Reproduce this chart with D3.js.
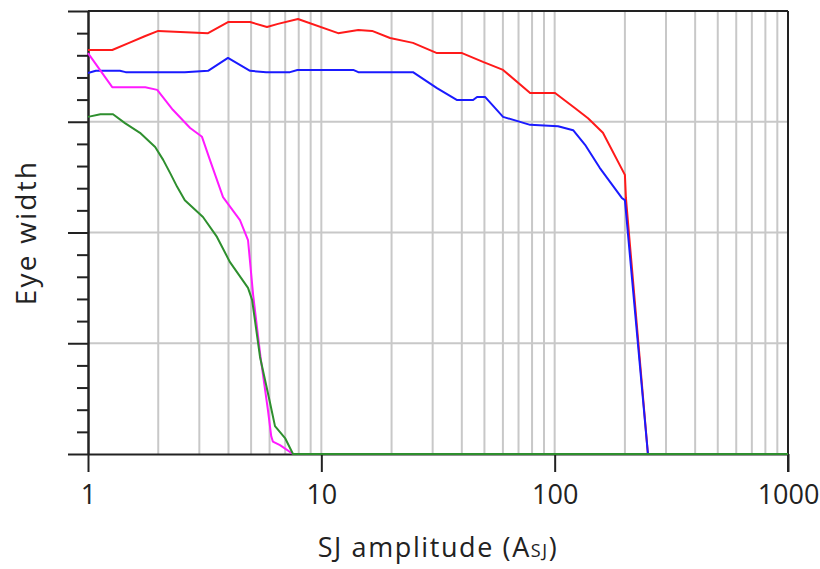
<!DOCTYPE html>
<html>
<head>
<meta charset="utf-8">
<script src="https://cdn.jsdelivr.net/npm/d3@7"></script>
<style>
  html, body { margin: 0; padding: 0; background: #fff; }
  svg { display: block; }
  text { font-family: "Open Sans", "Liberation Sans", sans-serif; fill: #222; }
</style>
</head>
<body>
<svg id="chart" width="820" height="569"></svg>
<script>
// ---- data (x = SJ amplitude, y = relative eye width) ----
const xTickValues = [1, 10, 100, 1000];
const xTickLabels = ["1", "10", "100", "1000"];
const yMajorTicks = [0, 0.25, 0.5, 0.75, 1];
const yMinorTicks = [0.05,0.1,0.15,0.2,0.3,0.35,0.4,0.45,0.55,0.6,0.65,0.7,0.8,0.85,0.9,0.95];

const redX = [1, 1.27, 1.5, 1.75, 2.0, 3.27, 3.98, 4.95, 5.85, 6.52, 7.94, 11.8, 14.4, 16.5, 19.7, 24.7, 31.3, 40.1, 49.3, 60.1, 78.5, 100.4, 122, 139, 161, 200, 202, 251];
const redY = [0.912, 0.912, 0.928, 0.943, 0.955, 0.950, 0.975, 0.975, 0.964, 0.971, 0.982, 0.950, 0.957, 0.955, 0.939, 0.928, 0.905, 0.905, 0.885, 0.867, 0.815, 0.815, 0.781, 0.758, 0.725, 0.630, 0.578, 0];

const blueX = [1, 1.08, 1.37, 1.45, 2.6, 3.27, 3.98, 4.95, 5.8, 7.34, 7.9, 13.7, 14.4, 24.7, 31.3, 38.2, 44.7, 46.5, 50.3, 60.1, 78.5, 103.4, 120, 135, 156, 194, 200, 251];
const blueY = [0.860, 0.865, 0.865, 0.862, 0.862, 0.865, 0.894, 0.865, 0.862, 0.862, 0.867, 0.867, 0.862, 0.862, 0.826, 0.799, 0.799, 0.806, 0.806, 0.761, 0.743, 0.740, 0.731, 0.698, 0.646, 0.578, 0.573, 0];

const pinkX = [1, 1.27, 1.76, 1.98, 2.31, 2.74, 3.08, 3.33, 3.79, 4.48, 4.85, 5.1, 5.5, 5.9, 6.1, 6.2, 6.65, 7.56];
const pinkY = [0.905, 0.828, 0.828, 0.822, 0.777, 0.736, 0.716, 0.664, 0.580, 0.528, 0.483, 0.36, 0.215, 0.10, 0.04, 0.028, 0.020, 0];

const greenX = [1, 1.13, 1.28, 1.44, 1.67, 1.94, 2.10, 2.25, 2.41, 2.6, 3.11, 3.57, 4.06, 4.85, 5.05, 5.46, 6.03, 6.33, 6.99, 7.56, 1000];
const greenY = [0.761, 0.767, 0.767, 0.747, 0.725, 0.693, 0.664, 0.634, 0.603, 0.573, 0.535, 0.490, 0.433, 0.375, 0.348, 0.219, 0.115, 0.063, 0.036, 0, 0];

const seriesList = [
  { name: "red",   xs: redX,   ys: redY,   color: "#ff1a1a" },
  { name: "blue",  xs: blueX,  ys: blueY,  color: "#1a1aff" },
  { name: "pink",  xs: pinkX,  ys: pinkY,  color: "#ff1aff" },
  { name: "green", xs: greenX, ys: greenY, color: "#2e8f2e" }
];

// ---- layout ----
const svg = d3.select("#chart");
const W = 820, H = 569;
const margin = { left: 88, right: 32, top: 11, bottom: 115 };
const x = d3.scaleLog().domain([1, 1000]).range([margin.left, W - margin.right]);
const y = d3.scaleLinear().domain([0, 1]).range([H - margin.bottom, margin.top]);
const axisColor = "#222";
const gridColor = "#c8c8c8";

// vertical gridlines at 1..9 per decade
const vGrid = [];
[1, 10, 100].forEach(d => { for (let k = 1; k <= 9; k++) vGrid.push(d * k); });
svg.append("g").selectAll("line").data(vGrid.filter(v => v > 1)).join("line")
  .attr("x1", d => x(d)).attr("x2", d => x(d))
  .attr("y1", y(1)).attr("y2", y(0))
  .attr("stroke", gridColor).attr("stroke-width", 2);

// horizontal gridlines
svg.append("g").selectAll("line").data([0.25, 0.5, 0.75]).join("line")
  .attr("x1", x(1)).attr("x2", x(1000))
  .attr("y1", d => y(d)).attr("y2", d => y(d))
  .attr("stroke", gridColor).attr("stroke-width", 2);

// left axis: major ticks (long) + minor ticks (short)
const yAxisMajor = d3.axisLeft(y).tickValues(yMajorTicks).tickSize(20).tickSizeOuter(0).tickFormat("");
const yAxisMinor = d3.axisLeft(y).tickValues(yMinorTicks).tickSize(11).tickSizeOuter(0).tickFormat("");
const gyMinor = svg.append("g").attr("transform", `translate(${margin.left},0)`).call(yAxisMinor);
const gyMajor = svg.append("g").attr("transform", `translate(${margin.left},0)`).call(yAxisMajor);
[gyMinor, gyMajor].forEach(g => {
  g.selectAll("line").attr("stroke", axisColor).attr("stroke-width", 2);
  g.select(".domain").attr("stroke", axisColor).attr("stroke-width", 2);
});

// top border
svg.append("line").attr("x1", x(1)).attr("x2", x(1000)).attr("y1", y(1)).attr("y2", y(1))
  .attr("stroke", axisColor).attr("stroke-width", 2);

// bottom axis
const xAxis = d3.axisBottom(x).tickValues(xTickValues).tickSize(18).tickSizeOuter(0)
  .tickFormat((d, i) => xTickLabels[i]).tickPadding(13);
const gx = svg.append("g").attr("transform", `translate(0,${y(0)})`).call(xAxis);
gx.select(".domain").attr("stroke", axisColor).attr("stroke-width", 2);
gx.selectAll("line").attr("stroke", axisColor).attr("stroke-width", 2);
gx.selectAll("text").attr("font-size", 27).attr("fill", "#222")
  .attr("font-family", "'Open Sans', 'Liberation Sans', sans-serif");

// right border
svg.append("line").attr("x1", x(1000)).attr("x2", x(1000)).attr("y1", y(1)).attr("y2", y(0) + 18)
  .attr("stroke", axisColor).attr("stroke-width", 2);

// series
const line = d3.line().x(d => x(d[0])).y(d => y(d[1]));
seriesList.forEach(s => {
  const pts = s.xs.map((v, i) => [v, s.ys[i]]);
  svg.append("path").datum(pts).attr("d", line)
    .attr("fill", "none").attr("stroke", s.color).attr("stroke-width", 2)
    .attr("stroke-linejoin", "round");
});

// axis titles
const xt = svg.append("text").attr("x", (x(1) + x(1000)) / 2).attr("y", 557)
  .attr("text-anchor", "middle").attr("font-size", 27).attr("letter-spacing", 1.6);
xt.append("tspan").text("SJ amplitude (A");
xt.append("tspan").attr("font-size", 18).text("SJ");
xt.append("tspan").text(")");

svg.append("text").attr("transform", `translate(36,${(y(0) + y(1)) / 2}) rotate(-90)`)
  .attr("text-anchor", "middle").attr("font-size", 28).attr("letter-spacing", 2.2).text("Eye width");
</script>
</body>
</html>
